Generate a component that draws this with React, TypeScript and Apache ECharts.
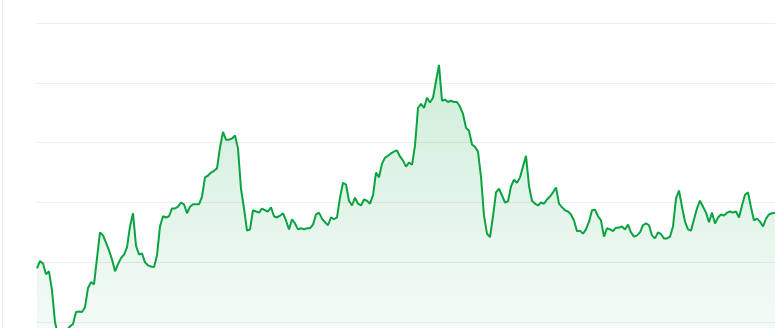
import React, { useEffect, useRef } from "react";
import * as echarts from "echarts";

const prices: number[] = [
  19.0, 20.2, 19.8, 18.0, 18.5, 15.3, 10.0, 7.8, 7.0, 7.3,
  8.7, 9.3, 9.7, 11.7, 11.8, 11.7, 12.5, 15.7, 16.7, 16.3,
  20.7, 25.0, 24.5, 23.3, 22.0, 20.5, 18.5, 19.7, 20.7, 21.3,
  22.5, 26.0, 28.2, 22.8, 21.3, 21.5, 20.0, 19.5, 19.3, 19.2,
  21.2, 26.0, 27.7, 27.5, 27.7, 29.0, 29.0, 29.3, 30.0, 29.7,
  28.2, 29.3, 29.7, 29.7, 29.7, 31.0, 34.2, 34.5, 35.0, 35.3,
  35.7, 39.2, 41.8, 40.5, 40.5, 40.7, 41.2, 39.0, 32.3, 29.0,
  25.3, 25.5, 28.7, 28.5, 28.3, 29.0, 28.7, 28.5, 29.2, 27.7,
  27.5, 27.8, 28.2, 27.0, 25.5, 27.2, 26.5, 25.5, 25.7, 25.5,
  25.7, 25.7, 26.3, 28.0, 28.3, 27.3, 26.7, 26.2, 27.5, 27.2,
  27.5, 30.8, 33.3, 33.0, 30.3, 29.5, 30.8, 29.8, 29.5, 30.5,
  30.3, 29.8, 31.2, 35.0, 34.2, 36.5, 37.5, 37.8, 38.2, 38.5,
  38.7, 37.7, 37.0, 36.0, 36.7, 36.3, 39.5, 45.8, 46.5, 45.8,
  47.5, 46.7, 47.5, 50.3, 53.0, 47.0, 47.2, 46.8, 47.0, 46.8,
  46.8, 46.0, 44.8, 42.5, 42.0, 39.7, 39.3, 38.5, 34.3, 27.8,
  24.8, 24.2, 27.7, 31.7, 32.3, 31.2, 30.0, 30.2, 32.7, 33.8,
  33.3, 34.2, 36.0, 37.8, 32.8, 30.3, 29.8, 29.5, 30.0, 29.8,
  30.5, 31.0, 31.7, 32.5, 29.8, 29.2, 28.7, 28.5, 28.0, 27.0,
  25.2, 25.3, 24.8, 25.5, 26.8, 28.7, 28.8, 27.7, 27.0, 24.3,
  25.7, 25.5, 25.2, 25.8, 25.8, 26.0, 25.5, 26.3, 25.0, 24.3,
  24.5, 25.0, 26.2, 26.5, 26.2, 24.5, 24.0, 25.0, 24.7, 24.0,
  24.0, 24.3, 26.0, 30.7, 32.0, 29.3, 26.8, 25.5, 25.3, 27.2,
  29.0, 30.3, 29.3, 28.3, 26.7, 28.3, 26.5, 27.5, 28.0, 27.8,
  28.3, 28.5, 28.3, 28.5, 27.5, 29.5, 31.3, 31.7, 29.2, 27.0,
  27.3, 26.8, 26.0, 27.3, 28.0, 28.2, 28.3,
];

const days: string[] = prices.map((_, i) => `D${i + 1}`);

const yMin = 0;
const yMax = 60;
const yInterval = 10;

export default function App() {
  const ref = useRef<HTMLDivElement>(null);

  useEffect(() => {
    if (!ref.current) return;
    const chart = echarts.init(ref.current, undefined, { renderer: "svg" });
    chart.setOption({
      animation: false,
      backgroundColor: "#ffffff",
      grid: { left: 37, right: 0, top: 23, height: 359 },
      graphic: [
        {
          type: "line",
          shape: { x1: 2.5, y1: 0, x2: 2.5, y2: 400 },
          style: { stroke: "#eeeeee", lineWidth: 1 },
          silent: true,
        },
      ],
      xAxis: {
        type: "category",
        data: days,
        boundaryGap: false,
        show: false,
      },
      yAxis: {
        type: "value",
        min: yMin,
        max: yMax,
        interval: yInterval,
        axisLine: { show: false },
        axisTick: { show: false },
        axisLabel: { show: false },
        splitLine: { show: true, lineStyle: { color: "#eeeeee", width: 1 } },
      },
      series: [
        {
          type: "line",
          data: prices,
          symbol: "none",
          lineStyle: { color: "#0ba342", width: 2 },
          itemStyle: { color: "#0ba342" },
          areaStyle: {
            color: new echarts.graphic.LinearGradient(0, 0, 0, 1, [
              { offset: 0, color: "rgba(11,163,66,0.28)" },
              { offset: 1, color: "rgba(11,163,66,0.02)" },
            ]),
          },
        },
      ],
    });
    return () => chart.dispose();
  }, []);

  return (
    <div
      style={{
        position: "fixed",
        left: 0,
        top: 0,
        width: 775,
        height: 328,
        overflow: "hidden",
        background: "#fff",
      }}
    >
      <div ref={ref} style={{ width: 775, height: 400 }} />
    </div>
  );
}
